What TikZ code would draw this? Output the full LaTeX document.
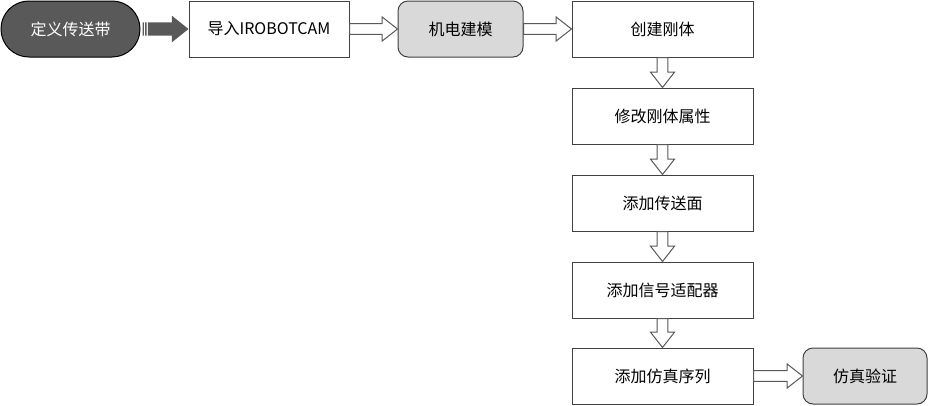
\documentclass[tikz,border=0pt]{standalone}
\usepackage{fontspec}
\setmainfont{Noto Sans CJK SC}
\usetikzlibrary{calc}
\definecolor{darkfill}{HTML}{595959}
\definecolor{lightfill}{HTML}{D9D9D9}
\definecolor{edge}{HTML}{404040}
\definecolor{arrowedge}{HTML}{595959}
\tikzset{
  base/.style={draw=edge, line width=0.75pt, minimum height=42pt, inner sep=0pt, font=\fontsize{12}{14}\selectfont, text=black},
  stepbox/.style={base, rectangle, minimum width=135.75pt, fill=white},
  softbox/.style={base, rounded corners=7.5pt, fill=lightfill},
  startbox/.style={base, rounded corners=20.9pt, fill=darkfill, text=white, draw=black},
  hollow/.style={draw=arrowedge, line width=0.75pt, fill=white, line join=miter},
  solidarrow/.style={fill=darkfill, draw=none},
}
\newcommand\harrow[2]{%
  \draw[hollow] let \p1=(#1.east), \p2=(#2.west) in
    (\x1,\y1+4.1pt) -- (\x2-11.5pt,\y1+4.1pt) -- (\x2-11.5pt,\y1+9pt) -- (\x2,\y1)
    -- (\x2-11.5pt,\y1-9pt) -- (\x2-11.5pt,\y1-4.1pt) -- (\x1,\y1-4.1pt) -- cycle;}
\newcommand\varrow[2]{%
  \draw[hollow] let \p1=(#1.south), \p2=(#2.north) in
    (\x1-4.1pt,\y1) -- (\x1-4.1pt,\y2+11.5pt) -- (\x1-9pt,\y2+11.5pt) -- (\x1,\y2)
    -- (\x1+9pt,\y2+11.5pt) -- (\x1+4.1pt,\y2+11.5pt) -- (\x1+4.1pt,\y1) -- cycle;}
\begin{document}
\begin{tikzpicture}[x=0.75pt,y=-0.75pt]
\useasboundingbox (0,0) rectangle (928,405);
\node[startbox, minimum width=104.25pt] (start) at (70.5,29) {定义传送带};
\node[stepbox, minimum width=120pt] (imp) at (269,29) {导入IROBOTCAM};
\node[softbox, minimum width=93.75pt] (mech) at (460.5,29) {机电建模};
\node[stepbox] (rigid) at (662.5,29) {创建刚体};
\node[stepbox] (modify) at (662.5,116) {修改刚体属性};
\node[stepbox] (face) at (662.5,203) {添加传送面};
\node[stepbox] (signal) at (662.5,290) {添加信号适配器};
\node[stepbox] (seq) at (662.5,376) {添加仿真序列};
\node[softbox, minimum width=93pt] (verify) at (865,376) {仿真验证};
% striped solid arrow
\fill[solidarrow] let \p1=(start.east), \p2=(imp.west) in
  (\x1+1.5pt,\y1-5pt) rectangle (\x1+2.5pt,\y1+5pt)
  (\x1+3.5pt,\y1-5pt) rectangle (\x1+4.5pt,\y1+5pt)
  (\x1+5.5pt,\y1+5pt) -- (\x2-12.5pt,\y1+5pt) -- (\x2-12.5pt,\y1+10pt) -- (\x2,\y1)
  -- (\x2-12.5pt,\y1-10pt) -- (\x2-12.5pt,\y1-5pt) -- (\x1+5.5pt,\y1-5pt) -- cycle;
\harrow{imp}{mech}
\harrow{mech}{rigid}
\varrow{rigid}{modify}
\varrow{modify}{face}
\varrow{face}{signal}
\varrow{signal}{seq}
\harrow{seq}{verify}
\end{tikzpicture}
\end{document}
